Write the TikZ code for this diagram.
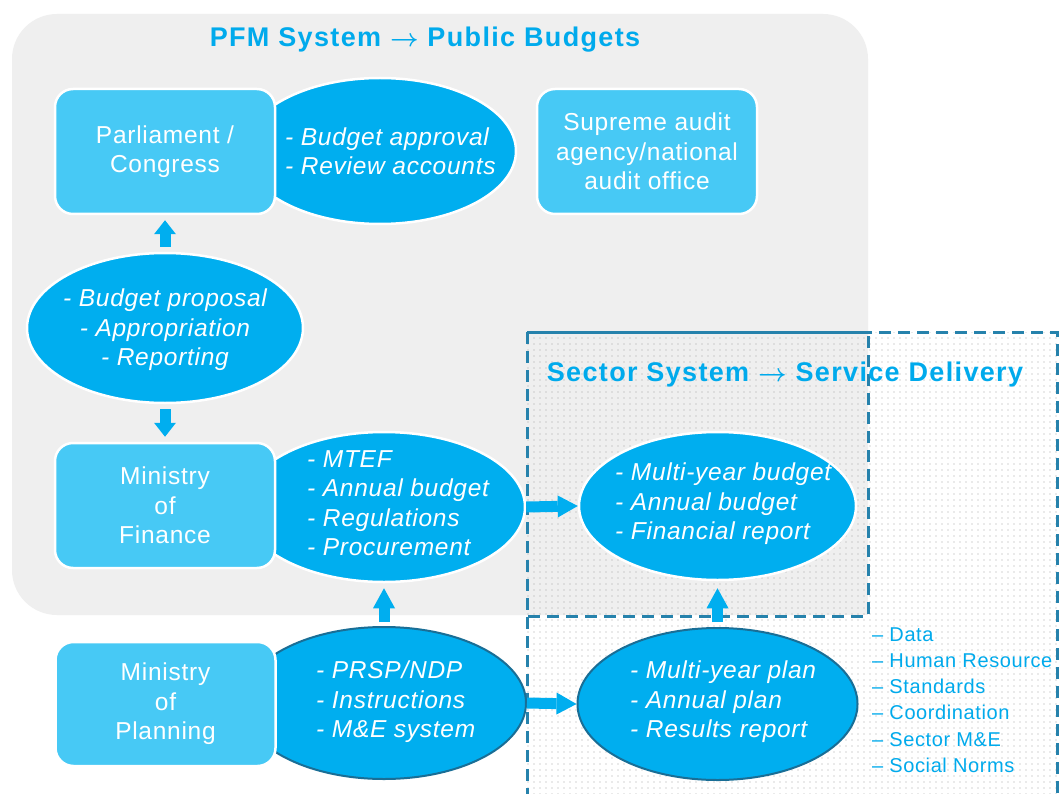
\documentclass[tikz,border=0pt]{standalone}
\usepackage{fontspec}
\newfontfamily\dfont{Liberation Sans}[LetterSpace=3]
\newfontfamily\tfont{Liberation Sans}[LetterSpace=5]
\usetikzlibrary{shapes.geometric,arrows.meta,patterns.meta}
\definecolor{bggrey}{RGB}{239,239,239}
\definecolor{boxblue}{RGB}{71,201,245}
\definecolor{ellblue}{RGB}{0,174,239}
\definecolor{titleblue}{RGB}{0,170,236}
\definecolor{dashblue}{RGB}{38,130,172}
\definecolor{rimblue}{RGB}{25,110,150}
\definecolor{dotgrey}{RGB}{165,165,165}
\begin{document}
\begin{tikzpicture}[x=1pt,y=-1pt,
  box/.style={rectangle, rounded corners=18pt, fill=boxblue, draw=white, line width=2.5pt, minimum width=220pt, minimum height=125pt, inner sep=0pt},
  ell/.style={ellipse, fill=ellblue, draw=white, line width=2.5pt, inner sep=0pt},
  rimell/.style={ell, draw=rimblue, line width=2pt},
  ctext/.style={text=white, inner sep=0pt, align=center, font=\dfont\fontsize{24.5}{29.5}\selectfont},
  citext/.style={text=white, inner sep=0pt, align=center, font=\dfont\itshape\fontsize{24.5}{29.5}\selectfont},
  itext/.style={text=white, inner sep=0pt, align=left, anchor=west, font=\dfont\itshape\fontsize{24.5}{29.5}\selectfont},
  ttext/.style={text=titleblue, inner sep=0pt, font=\tfont\bfseries\fontsize{27}{32}\selectfont},
  ltext/.style={text=titleblue, inner sep=0pt, align=left, anchor=west, font=\dfont\fontsize{20}{26.2}\selectfont},
  dline/.style={draw=dashblue, line width=3pt, dash pattern=on 12pt off 7pt},
  varrow/.style={draw=ellblue, line width=11pt, -{Triangle[length=14pt,width=22pt,line width=0pt]}},
  varrowb/.style={draw=ellblue, line width=11pt, -{Triangle[length=20pt,width=22pt,line width=0pt]}},
  harrow/.style={draw=ellblue, line width=11pt, -{Triangle[length=20pt,width=22pt,line width=0pt]}}
]
\clip (0,0) rectangle (1059,794);
\fill[white] (0,0) rectangle (1059,794);
% PFM background
\fill[bggrey, rounded corners=45pt] (12,14) rectangle (868,615);
\fill[bggrey] (440,300) rectangle (868,615);
% sector region
\fill[pattern={Dots[distance=6pt,radius=0.65pt]}, pattern color=dotgrey] (527,332) rectangle (1057,820);
\draw[dline] (527,332) rectangle (868,616);
\draw[dline] (527,332) rectangle (1057,820);
% titles
\node[ttext] (pfmt) at (425,40) {PFM System {\boldmath$\rightarrow$} Public Budgets};
\node[ttext] (sect) at (785,375) {Sector System {\boldmath$\rightarrow$} Service Delivery};
% ellipses
\node[ell, minimum width=272pt, minimum height=146pt] (appr) at (380,151) {};
\node[ell, minimum width=276pt, minimum height=150pt] (prop) at (165,328) {};
\node[ell, minimum width=282pt, minimum height=150pt] (mtef) at (384,507) {};
\node[ell, minimum width=277pt, minimum height=148pt] (mybud) at (717.5,506) {};
\node[rimell, minimum width=284pt, minimum height=152pt] (prsp) at (384,703) {};
\node[rimell, minimum width=280pt, minimum height=152pt] (myplan) at (717.5,704) {};
% boxes
\node[box] (parl) at (165,151.5) {};
\node[box] (sai) at (647,151.5) {};
\node[box] (mof) at (165,505.5) {};
\node[box, minimum height=124pt] (mop) at (165.5,704) {};
% arrows
\draw[varrow, shorten <=5pt, shorten >=5pt] (prop.north) -- (parl.south);
\draw[varrow, shorten <=5pt, shorten >=5pt] (prop.south) -- (mof.north);
\draw[varrowb, shorten <=4pt, shorten >=5pt] (prsp.north) -- (mtef.south);
\draw[varrowb, shorten <=5pt, shorten >=7pt] (myplan.north) -- (mybud.south);
\draw[harrow] (mtef.east) -- (mybud.west);
\draw[harrow] (prsp.east) -- (myplan.west);
% texts
\node[ctext] (parlt) at (parl) {Parliament /\\Congress};
\node[ctext] (sait) at (sai) {Supreme audit\\agency/national\\audit office};
\node[itext] (apprt) at (285,151) {- Budget approval\\- Review accounts};
\node[citext] (propt) at (165,330) {- Budget proposal\\- Appropriation\\- Reporting};
\node[ctext] (moft) at (mof) {Ministry\\of\\Finance};
\node[itext] (mteft) at (307,503) {- MTEF\\- Annual budget\\- Regulations\\- Procurement};
\node[itext] (mybudt) at (615,504) {- Multi-year budget\\- Annual budget\\- Financial report};
\node[ctext] (mopt) at (mop) {Ministry\\of\\Planning};
\node[itext] (prspt) at (316,702) {- PRSP/NDP\\- Instructions\\- M\&E system};
\node[itext] (myplant) at (630,702) {- Multi-year plan\\- Annual plan\\- Results report};
\node[ltext] (lst) at (872,700) {– Data\\– Human Resource\\– Standards\\– Coordination\\– Sector M\&E\\– Social Norms};
\end{tikzpicture}
\end{document}
